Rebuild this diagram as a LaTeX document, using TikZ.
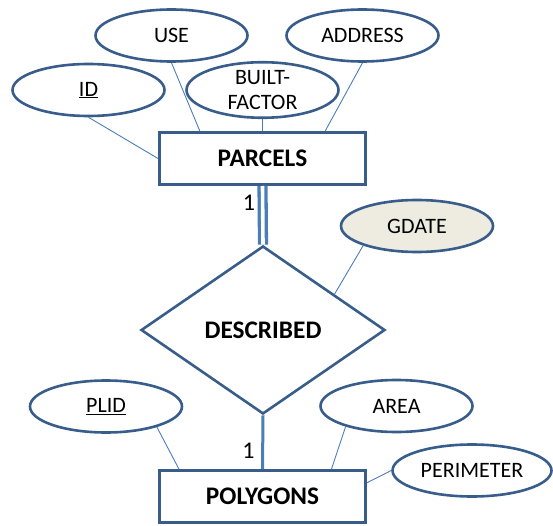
\documentclass[tikz,border=0pt]{standalone}
\usepackage{fontspec}
\setmainfont{Carlito}
\usetikzlibrary{shapes.geometric,calc}
\definecolor{edgeblue}{HTML}{385D8A}
\definecolor{linkblue}{HTML}{4A7EBB}
\definecolor{tanfill}{HTML}{EEECE1}
\begin{document}
\begin{tikzpicture}[x=1pt,y=-1pt,
  attr/.style={ellipse, draw=edgeblue, line width=2.6pt, fill=white,
    minimum width=152pt, minimum height=52pt, inner sep=0pt,
    font=\fontsize{22}{25}\selectfont, align=center},
  entity/.style={rectangle, draw=edgeblue, line width=3pt, fill=white,
    minimum width=206pt, minimum height=52pt, inner sep=0pt,
    font=\fontsize{25.3}{29}\selectfont\bfseries},
  relation/.style={diamond, draw=edgeblue, line width=2.6pt, fill=white,
    minimum width=244pt, minimum height=168pt, inner sep=0pt,
    font=\fontsize{25.3}{29}\selectfont\bfseries},
  link/.style={draw=linkblue, line width=0.9pt},
  card/.style={inner sep=0pt, font=\fontsize{24}{27}\selectfont}
]
\useasboundingbox (0,0) rectangle (553,526);

% entities and relationship
\node[entity] (PARCELS) at (262.5,158.5) {PARCELS};
\node[entity] (POLY) at (262.5,496.5) {POLYGONS};
\node[relation] (DESC) at (263,330) {DESCRIBED};

% attributes of PARCELS
\node[attr] (USE) at (171.5,35.5) {USE};
\node[attr] (ADDRESS) at (362.5,35.5) {ADDRESS};
\node[attr] (ID) at (88.5,90) {\underline{ID}};
\node[attr] (BUILT) at (262.5,90) {BUILT-\\FACTOR};

% attribute of the relationship
\node[attr, fill=tanfill] (GDATE) at (417,226) {GDATE};

% attributes of POLYGONS
\node[attr] (PLID) at (106,406.5) {\underline{PLID}};
\node[attr] (AREA) at (396.5,406) {AREA};
\node[attr, minimum width=159pt] (PERIM) at (472,470.5) {PERIMETER};

% attribute links
\draw[link] (ID.south) -- (PARCELS.west);
\draw[link] (USE.south) -- ($(PARCELS.north west)!0.2!(PARCELS.north east)$);
\draw[link] (BUILT.south) -- (PARCELS.north);
\draw[link] (ADDRESS.south) -- ($(PARCELS.north west)!0.8!(PARCELS.north east)$);
\draw[link] (GDATE.200) -- ($(DESC.north)!0.58!(DESC.east)$);
\draw[link] (PLID.-22) -- ($(POLY.north west)!0.1!(POLY.north east)$);
\draw[link] (AREA.202) -- ($(POLY.north west)!0.83!(POLY.north east)$);
\draw[link] (PERIM.west) -- ($(POLY.north east)!0.5!(POLY.east)$);

% participation lines
\draw[linkblue, line width=3.3pt, double=white, double distance=3.6pt]
  (PARCELS.south) -- (DESC.north);
\draw[linkblue, line width=3pt] (DESC.south) -- (POLY.north);

% cardinalities
\node[card] (c1) at (249,203) {1};
\node[card] (c2) at (248.5,450.5) {1};
\end{tikzpicture}
\end{document}
